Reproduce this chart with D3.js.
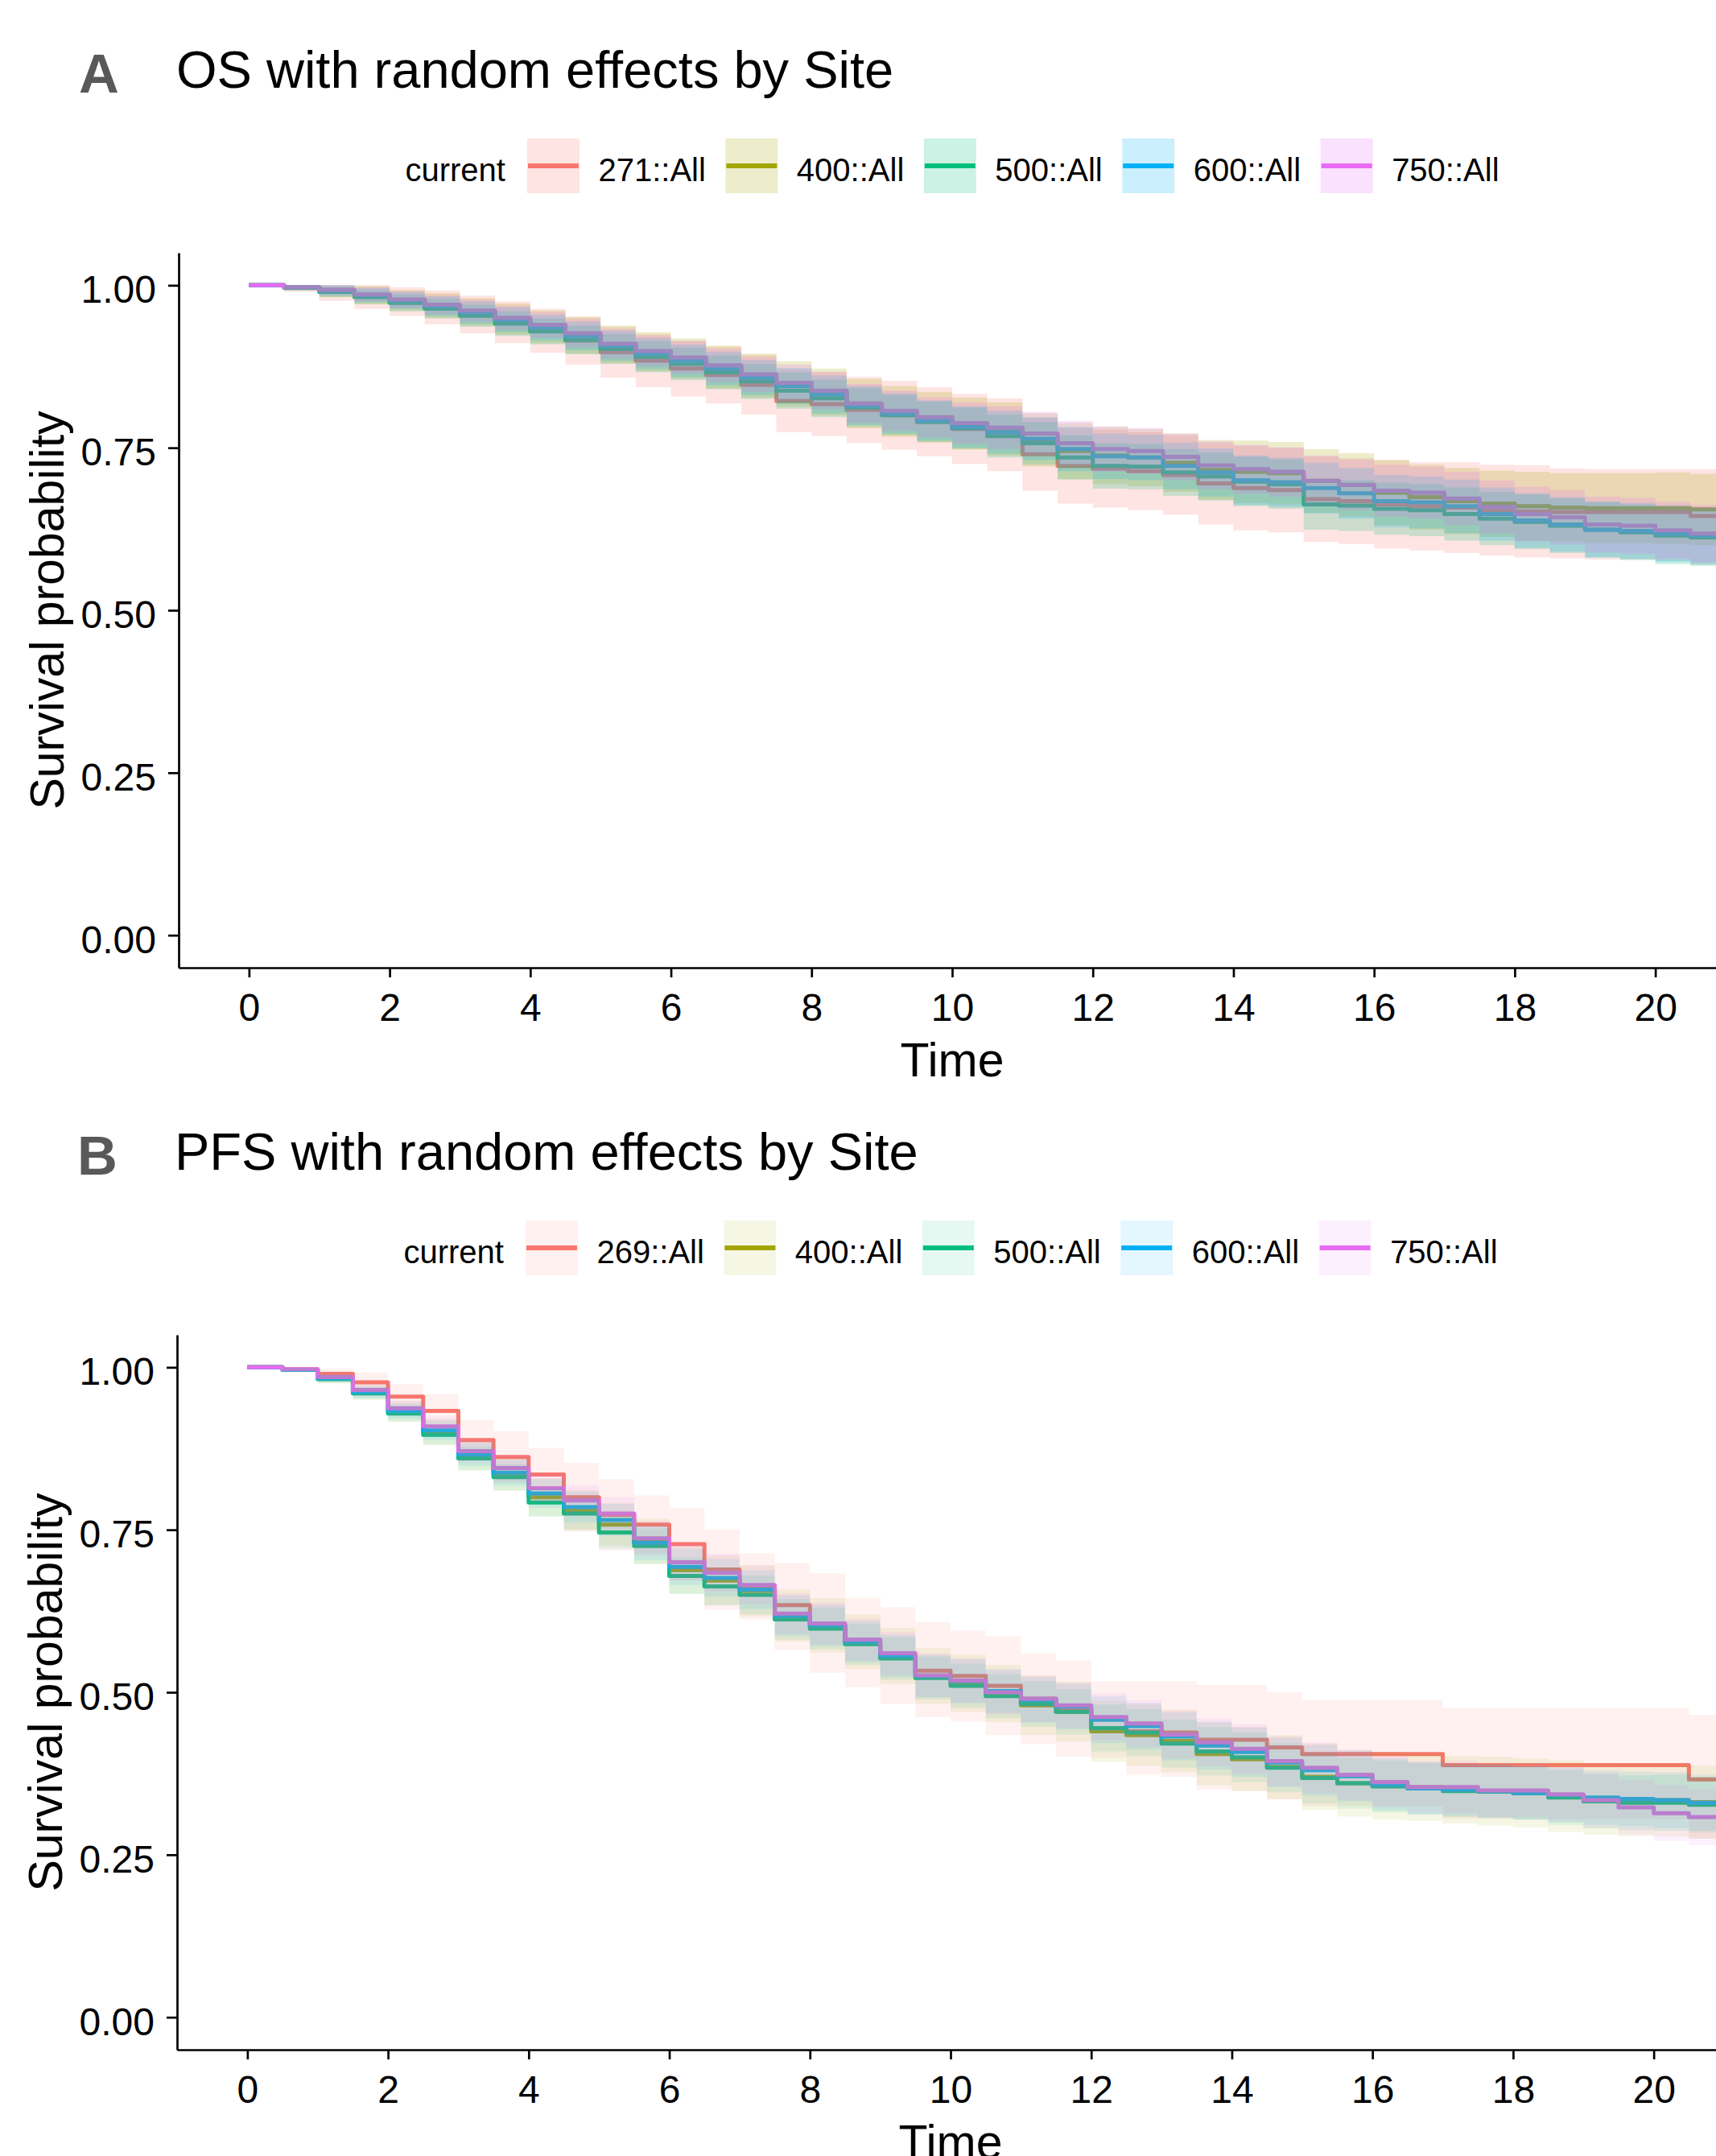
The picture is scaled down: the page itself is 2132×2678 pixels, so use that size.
<!DOCTYPE html>
<html>
<head>
<meta charset="utf-8">
<script src="https://cdn.jsdelivr.net/npm/d3@7/dist/d3.min.js"></script>
<style>
html,body{margin:0;padding:0;background:#ffffff;}
svg{display:block;}
</style>
</head>
<body>
<svg id="chart" width="2132" height="2678" xmlns="http://www.w3.org/2000/svg"></svg>
<script>
// ---------------- DATA ----------------
const times = [0,0.5,1,1.5,2,2.5,3,3.5,4,4.5,5,5.5,6,6.5,7,7.5,8,8.5,9,9.5,10,10.5,11,11.5,12,12.5,13,13.5,14,14.5,15,15.5,16,16.5,17,17.5,18,18.5,19,19.5,20,20.5,21];
const xTickVals = [0,2,4,6,8,10,12,14,16,18,20];
const xTickLabels = ["0","2","4","6","8","10","12","14","16","18","20"];
const yTickVals = [0,0.25,0.5,0.75,1];
const yTickLabels = ["0.00","0.25","0.50","0.75","1.00"];
const legendTitle = "current";
const legendA = ["271::All","400::All","500::All","600::All","750::All"];
const legendB = ["269::All","400::All","500::All","600::All","750::All"];
const colors = ["#F8766D","#A3A500","#00BF7D","#00B0F6","#E76BF3"];

// Panel A (OS)
const a271Est = [1.000,.997,.990,.983,.975,.966,.955,.943,.930,.915,.897,.884,.872,.862,.847,.822,.817,.808,.800,.790,.779,.770,.740,.722,.718,.714,.708,.695,.688,.685,.671,.668,.663,.660,.658,.654,.652,.651,.651,.651,.651,.645,.643];
const a271Hi  = [1,1,1,1,.997,.992,.984,.975,.964,.952,.936,.925,.915,.906,.893,.870,.866,.859,.853,.843,.833,.826,.796,.780,.778,.774,.769,.758,.753,.750,.737,.734,.731,.728,.728,.724,.723,.718,.717,.717,.717,.717,.715];
const a271Lo  = [1,.990,.976,.964,.953,.940,.926,.911,.896,.878,.858,.843,.829,.818,.801,.774,.768,.757,.747,.737,.725,.714,.684,.664,.658,.654,.647,.632,.623,.620,.605,.602,.595,.592,.588,.584,.581,.580,.578,.578,.576,.570,.566];

const a400Est = [1.000,.997,.992,.985,.977,.969,.959,.948,.936,.923,.909,.898,.887,.874,.861,.848,.836,.818,.806,.797,.787,.779,.762,.745,.738,.735,.727,.716,.713,.711,.699,.693,.681,.674,.668,.664,.660,.658,.657,.657,.657,.655,.653];
const a400Hi  = [1,1,1,.999,.993,.988,.980,.972,.961,.951,.938,.928,.918,.907,.895,.883,.872,.856,.845,.836,.827,.820,.803,.788,.782,.779,.772,.762,.761,.759,.748,.742,.731,.724,.719,.715,.713,.711,.711,.711,.712,.710,.709];
const a400Lo  = [1,.992,.982,.971,.961,.950,.938,.924,.911,.895,.880,.868,.856,.841,.827,.813,.800,.780,.767,.758,.747,.738,.721,.702,.694,.691,.682,.670,.665,.663,.650,.644,.631,.624,.617,.613,.607,.605,.603,.603,.602,.600,.597];

const a500Est = [1.000,.996,.990,.982,.973,.964,.953,.941,.929,.916,.902,.890,.879,.866,.852,.838,.826,.812,.800,.790,.780,.768,.757,.735,.722,.721,.712,.706,.698,.694,.663,.661,.656,.654,.648,.641,.636,.630,.624,.620,.615,.612,.607];
const a500Hi  = [1,1,.998,.993,.986,.979,.970,.960,.949,.938,.925,.914,.904,.892,.879,.866,.855,.842,.831,.821,.812,.801,.790,.769,.757,.756,.748,.743,.736,.732,.702,.700,.696,.694,.689,.682,.678,.672,.667,.663,.659,.656,.652];
const a500Lo  = [1,.992,.982,.971,.960,.949,.936,.922,.909,.894,.879,.866,.854,.840,.825,.810,.797,.782,.769,.759,.748,.735,.724,.701,.687,.686,.676,.669,.660,.656,.624,.622,.616,.614,.607,.600,.594,.588,.581,.577,.571,.568,.562];

const a600Est = [1.000,.997,.992,.985,.977,.968,.958,.947,.935,.922,.907,.895,.884,.872,.858,.845,.832,.815,.803,.792,.782,.774,.764,.748,.737,.735,.722,.712,.700,.697,.688,.680,.668,.666,.660,.648,.638,.632,.624,.622,.618,.615,.610];
const a600Hi  = [1,1,1,.996,.990,.983,.975,.966,.955,.944,.930,.919,.909,.898,.885,.873,.861,.845,.834,.823,.814,.807,.797,.782,.772,.770,.758,.749,.738,.735,.727,.719,.708,.706,.701,.689,.680,.674,.667,.665,.662,.659,.655];
const a600Lo  = [1,.993,.984,.974,.964,.953,.941,.928,.915,.900,.884,.871,.859,.846,.831,.817,.803,.785,.772,.761,.750,.741,.731,.714,.702,.700,.686,.675,.662,.659,.649,.641,.628,.626,.619,.607,.596,.590,.581,.579,.574,.571,.565];

const a750Est = [1.000,.997,.993,.986,.978,.970,.961,.950,.939,.926,.910,.899,.889,.877,.863,.850,.838,.818,.807,.797,.788,.781,.772,.757,.748,.745,.736,.723,.717,.713,.699,.693,.684,.681,.672,.659,.648,.643,.632,.630,.623,.618,.612];
const a750Hi  = [1,1,1,.997,.991,.985,.978,.969,.959,.948,.933,.923,.914,.903,.890,.878,.867,.848,.838,.828,.820,.814,.805,.791,.783,.780,.772,.760,.755,.751,.738,.732,.724,.721,.713,.700,.690,.685,.675,.673,.667,.662,.657];
const a750Lo  = [1,.993,.985,.975,.965,.955,.944,.931,.919,.904,.887,.875,.864,.851,.836,.822,.809,.788,.776,.766,.756,.748,.739,.723,.713,.710,.700,.686,.679,.675,.660,.654,.644,.641,.631,.618,.606,.601,.589,.587,.579,.574,.567];

// Panel B (PFS)
const b269Est = [1.000,.997,.990,.977,.955,.933,.888,.862,.835,.800,.773,.758,.728,.689,.663,.634,.601,.578,.553,.533,.525,.510,.490,.475,.458,.440,.438,.427,.427,.415,.405,.405,.405,.405,.388,.388,.388,.388,.388,.388,.388,.366,.366];
const b269Hi  = [1,.998,.998,.992,.974,.959,.919,.902,.876,.853,.828,.803,.784,.751,.714,.699,.683,.646,.631,.608,.595,.586,.560,.549,.517,.517,.517,.511,.511,.500,.488,.488,.488,.488,.476,.476,.476,.476,.476,.476,.476,.465,.465];
const b269Lo  = [1,.996,.982,.962,.936,.907,.857,.822,.794,.747,.718,.713,.672,.627,.612,.565,.530,.508,.482,.462,.455,.434,.420,.401,.399,.373,.370,.350,.348,.335,.325,.325,.325,.325,.305,.305,.305,.305,.305,.305,.305,.275,.275];

const b400Est = [1.000,.996,.983,.962,.932,.900,.864,.836,.800,.780,.758,.732,.688,.672,.656,.618,.603,.578,.556,.525,.514,.498,.480,.470,.440,.434,.425,.405,.397,.385,.370,.360,.356,.354,.350,.348,.345,.340,.336,.334,.334,.331,.330];
const b400Hi  = [1,1,.991,.974,.948,.920,.887,.862,.829,.811,.791,.767,.724,.710,.695,.658,.645,.620,.599,.568,.558,.542,.526,.516,.487,.481,.473,.453,.446,.434,.421,.411,.408,.406,.402,.401,.398,.395,.391,.389,.390,.387,.386];
const b400Lo  = [1,.992,.975,.950,.916,.880,.841,.810,.771,.749,.725,.697,.652,.634,.617,.578,.561,.536,.513,.482,.470,.454,.434,.424,.393,.387,.377,.357,.348,.336,.319,.309,.304,.302,.298,.295,.292,.285,.281,.279,.278,.275,.274];

const b500Est = [1.000,.996,.982,.960,.929,.896,.860,.831,.792,.775,.746,.725,.679,.663,.650,.612,.598,.574,.552,.522,.510,.494,.482,.470,.445,.438,.421,.409,.400,.384,.368,.360,.355,.352,.348,.347,.345,.338,.332,.330,.330,.327,.325];
const b500Hi  = [1,.999,.988,.969,.941,.911,.878,.851,.814,.799,.771,.752,.707,.692,.680,.643,.630,.606,.585,.555,.544,.528,.517,.505,.481,.474,.458,.446,.438,.422,.407,.399,.395,.392,.388,.388,.386,.380,.374,.372,.373,.370,.368];
const b500Lo  = [1,.993,.976,.951,.917,.881,.842,.811,.770,.751,.721,.698,.651,.634,.620,.581,.566,.542,.519,.489,.476,.460,.447,.435,.409,.402,.384,.372,.362,.346,.329,.321,.315,.312,.308,.306,.304,.296,.290,.288,.287,.284,.282];

const b600Est = [1.000,.996,.983,.962,.933,.903,.866,.838,.806,.785,.765,.730,.693,.676,.658,.618,.603,.578,.556,.525,.517,.502,.488,.478,.458,.448,.432,.418,.408,.392,.380,.371,.358,.352,.350,.348,.345,.342,.338,.336,.334,.330,.328];
const b600Hi  = [1,.999,.989,.971,.945,.918,.884,.858,.828,.809,.790,.757,.721,.705,.688,.649,.635,.610,.589,.558,.551,.536,.523,.513,.494,.484,.469,.455,.446,.430,.419,.410,.398,.392,.390,.389,.386,.384,.380,.378,.377,.373,.371];
const b600Lo  = [1,.993,.977,.953,.921,.888,.848,.818,.784,.761,.740,.703,.665,.647,.628,.587,.571,.546,.523,.492,.483,.468,.453,.443,.422,.412,.395,.381,.370,.354,.341,.332,.318,.312,.310,.307,.304,.300,.296,.294,.291,.287,.285];

const b750Est = [1.000,.997,.985,.965,.937,.909,.871,.845,.814,.795,.775,.737,.700,.684,.665,.621,.606,.581,.560,.526,.518,.500,.490,.480,.462,.452,.435,.423,.413,.394,.384,.373,.362,.354,.354,.349,.349,.343,.334,.323,.314,.308,.303];
const b750Hi  = [1,1,.991,.974,.949,.924,.889,.865,.836,.819,.800,.764,.728,.713,.695,.652,.638,.613,.593,.559,.552,.534,.525,.515,.498,.488,.472,.460,.451,.432,.423,.412,.402,.394,.394,.390,.390,.385,.376,.365,.357,.351,.346];
const b750Lo  = [1,.994,.979,.956,.925,.894,.853,.825,.792,.771,.750,.710,.672,.655,.635,.590,.574,.549,.527,.493,.484,.466,.455,.445,.426,.416,.398,.386,.375,.356,.345,.334,.322,.314,.314,.308,.308,.301,.292,.281,.271,.265,.260];

// ---------------- CHART ----------------
const svg = d3.select("#chart");
svg.append("rect").attr("width", 2132).attr("height", 2678).attr("fill", "#ffffff");
const FONT = "'Liberation Sans', Arial, Helvetica, sans-serif";
const L = {left: 222, right: 2144, top: 314, bottom: 1202};
const xDomain = [-1, 21];
const yDomain = [-0.05, 1.05];

const panels = [
  {tag: "A", title: "OS with random effects by Site", labels: legendA, alpha: 0.2, dx: 0, dy: 0,
   series: [{est: a271Est, lo: a271Lo, hi: a271Hi}, {est: a400Est, lo: a400Lo, hi: a400Hi},
            {est: a500Est, lo: a500Lo, hi: a500Hi}, {est: a600Est, lo: a600Lo, hi: a600Hi},
            {est: a750Est, lo: a750Lo, hi: a750Hi}]},
  {tag: "B", title: "PFS with random effects by Site", labels: legendB, alpha: 0.1, dx: -2, dy: 1344,
   series: [{est: b269Est, lo: b269Lo, hi: b269Hi}, {est: b400Est, lo: b400Lo, hi: b400Hi},
            {est: b500Est, lo: b500Lo, hi: b500Hi}, {est: b600Est, lo: b600Lo, hi: b600Hi},
            {est: b750Est, lo: b750Lo, hi: b750Hi}]}
];

function drawLegend(g, p, cy) {
  const fs = 40;
  const lg = g.append("g").attr("font-family", FONT).attr("font-size", fs).attr("fill", "#000");
  const title = lg.append("text").text(legendTitle).attr("y", cy + 19);
  const labs = p.labels.map(l => lg.append("text").text(l).attr("y", cy + 19));
  const wT = title.node().getComputedTextLength();
  const wL = labs.map(t => t.node().getComputedTextLength());
  const keyW = 65, keyH = 68, gapTK = 27, gapKL = 23.5, gapLK = 24.5;
  const total = wT + gapTK + d3.sum(wL) + p.labels.length * (keyW + gapKL) + (p.labels.length - 1) * gapLK;
  let cx = (L.left + L.right) / 2 - total / 2;
  title.attr("x", cx);
  cx += wT + gapTK;
  p.labels.forEach((l, k) => {
    lg.append("rect").attr("x", cx).attr("y", cy - keyH / 2).attr("width", keyW).attr("height", keyH)
      .attr("fill", colors[k]).attr("fill-opacity", p.alpha);
    lg.append("line").attr("x1", cx + 1).attr("x2", cx + keyW - 1).attr("y1", cy).attr("y2", cy)
      .attr("stroke", colors[k]).attr("stroke-width", 6);
    cx += keyW + gapKL;
    labs[k].attr("x", cx);
    cx += wL[k] + gapLK;
  });
}

function drawPanel(p, idx) {
  const g = svg.append("g").attr("transform", `translate(${p.dx},${p.dy})`);
  const x = d3.scaleLinear().domain(xDomain).range([L.left, L.right]);
  const y = d3.scaleLinear().domain(yDomain).range([L.bottom, L.top]);

  // tag + title
  g.append("text").text(p.tag).attr("x", 98).attr("y", 115)
    .attr("font-family", FONT).attr("font-weight", "bold").attr("font-size", 69).attr("fill", "#595959");
  g.append("text").text(p.title).attr("x", 219).attr("y", 109)
    .attr("font-family", FONT).attr("font-size", 65).attr("fill", "#000");

  drawLegend(g, p, 206);

  const clipId = "clip" + idx;
  g.append("clipPath").attr("id", clipId).append("rect")
    .attr("x", L.left).attr("y", L.top).attr("width", L.right - L.left).attr("height", L.bottom - L.top);
  const plot = g.append("g").attr("clip-path", `url(#${clipId})`);

  const rows = p.series.map(s => times.map((t, i) => ({t: t, s: s.est[i], lo: s.lo[i], hi: s.hi[i]})));
  const line = d3.line().x(d => x(d.t)).y(d => y(d.s)).curve(d3.curveStepAfter);
  const area = d3.area().x(d => x(d.t)).y0(d => y(d.lo)).y1(d => y(d.hi)).curve(d3.curveStepAfter);

  rows.forEach((r, k) => plot.append("path").attr("d", line(r)).attr("fill", "none")
    .attr("stroke", colors[k]).attr("stroke-width", 5).attr("stroke-linejoin", "round"));
  rows.forEach((r, k) => plot.append("path").attr("d", area(r)).attr("fill", colors[k])
    .attr("fill-opacity", p.alpha).attr("stroke", "none"));

  // axes
  const yAxis = d3.axisLeft(y).tickValues(yTickVals).tickFormat((d, i) => yTickLabels[i])
    .tickSize(13).tickSizeOuter(0).tickPadding(15);
  const gy = g.append("g").attr("transform", `translate(${L.left},0)`).call(yAxis);
  const xAxis = d3.axisBottom(x).tickValues(xTickVals).tickFormat((d, i) => xTickLabels[i])
    .tickSize(12).tickSizeOuter(0).tickPadding(20);
  const gx = g.append("g").attr("transform", `translate(0,${L.bottom})`).call(xAxis);
  [gx, gy].forEach(a => {
    a.attr("font-family", FONT).attr("font-size", 48);
    a.select(".domain").attr("stroke", "#000").attr("stroke-width", 2.7);
    a.selectAll(".tick line").attr("stroke", "#000").attr("stroke-width", 2.7);
    a.selectAll(".tick text").attr("fill", "#000");
  });
  gy.selectAll(".tick text").attr("dy", "0.45em");

  // axis titles
  g.append("text").text("Survival probability")
    .attr("transform", `translate(79,${(L.top + L.bottom) / 2}) rotate(-90)`)
    .attr("text-anchor", "middle").attr("font-family", FONT).attr("font-size", 59).attr("fill", "#000");
  g.append("text").text("Time").attr("x", (L.left + L.right) / 2).attr("y", 1337)
    .attr("text-anchor", "middle").attr("font-family", FONT).attr("font-size", 59).attr("fill", "#000");
}

panels.forEach((p, i) => drawPanel(p, i));
</script>
</body>
</html>
